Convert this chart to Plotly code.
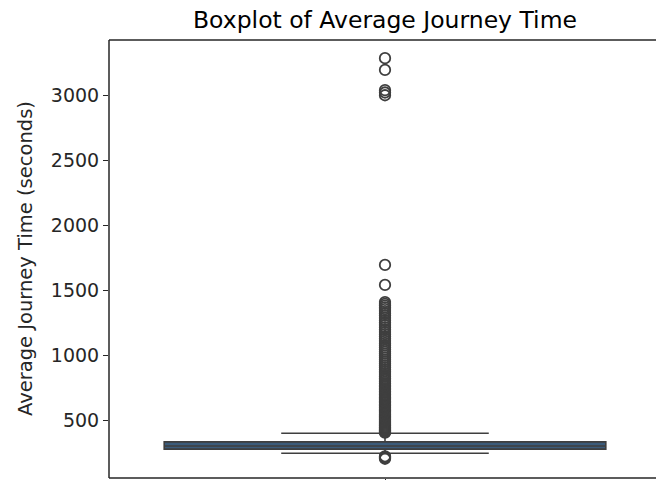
import plotly.graph_objects as go

# Box statistics (seconds)
q1 = [281]
median = [305]
q3 = [337]
lower_fence = [249]
upper_fence = [403]

# Outliers (seconds)
outliers = [
    207, 214, 221, 226,
    408, 412, 418, 425, 431, 438, 446, 452, 460, 467, 475, 483, 490, 498,
    507, 515, 524, 532, 541, 550, 559, 568, 578, 587, 597, 606, 616, 626,
    637, 647, 658, 668, 679, 690, 702, 713, 725, 737, 749, 761, 773, 786,
    799, 812, 825, 838, 852, 866, 880, 894, 909, 923, 938, 953, 968, 984,
    1000, 1015, 1031, 1047, 1063, 1080, 1096, 1113, 1130, 1147, 1165, 1182,
    1200, 1218, 1236, 1254, 1272, 1290, 1308, 1326, 1343, 1358, 1372, 1385,
    1398, 1412, 1544, 1698, 3003, 3024, 3042, 3198, 3288,
]

y_ticks = [500, 1000, 1500, 2000, 2500, 3000]

FONT = "DejaVu Sans"
LINE = "#3f3f3f"
SPINE = "#262626"

fig = go.Figure()
fig.add_trace(go.Box(
    x=[0], q1=q1, median=median, q3=q3,
    lowerfence=lower_fence, upperfence=upper_fence,
    width=0.8, whiskerwidth=0.47,
    fillcolor="#3b5b7a", line=dict(color=LINE, width=1.6),
    boxpoints=False, showlegend=False, hoverinfo="skip",
))
fig.add_trace(go.Scatter(
    x=[0] * len(outliers), y=outliers, mode="markers",
    marker=dict(symbol="circle-open", size=10.5, color=LINE,
                line=dict(width=1.8, color=LINE)),
    showlegend=False, hoverinfo="skip",
))

spine = dict(color=SPINE, width=1.5)
fig.update_layout(
    width=656, height=480,
    margin=dict(l=109, r=0, t=40, b=2),
    paper_bgcolor="white", plot_bgcolor="white",
    font=dict(family=FONT, color="#000000"),
    title=dict(text="Boxplot of Average Journey Time",
               font=dict(family=FONT, size=23.5, color="#000000"),
               x=(385 - 109) / 547, xref="paper", xanchor="center",
               y=1 - 20 / 480, yref="container", yanchor="middle"),
    xaxis=dict(range=[-0.5, -0.5 + 547 / 552], showgrid=False, zeroline=False,
               showline=False, automargin=False,
               tickvals=[0], ticktext=[""], ticks="outside", ticklen=5,
               tickwidth=1.3, tickcolor=SPINE),
    yaxis=dict(range=[59, 3428], showgrid=False, zeroline=False,
               showline=False, automargin=False,
               tickvals=y_ticks, ticks="outside", ticklen=5, tickwidth=1.3,
               tickcolor=SPINE, tickfont=dict(family=FONT, size=19, color="#262626")),
    shapes=[
        dict(type="line", xref="paper", yref="paper", x0=0, x1=0, y0=0, y1=1, line=spine),
        dict(type="line", xref="paper", yref="paper", x0=0, x1=1.01, y0=0, y1=0, line=spine),
        dict(type="line", xref="paper", yref="paper", x0=0, x1=1.01, y0=1, y1=1, line=spine),
    ],
    annotations=[dict(text="Average Journey Time (seconds)", textangle=-90,
                      xref="paper", yref="paper", x=(25 - 109) / 547, y=0.5,
                      xanchor="center", yanchor="middle", showarrow=False,
                      font=dict(family=FONT, size=19.5, color="#262626"))],
)

fig.write_html("out.html")
